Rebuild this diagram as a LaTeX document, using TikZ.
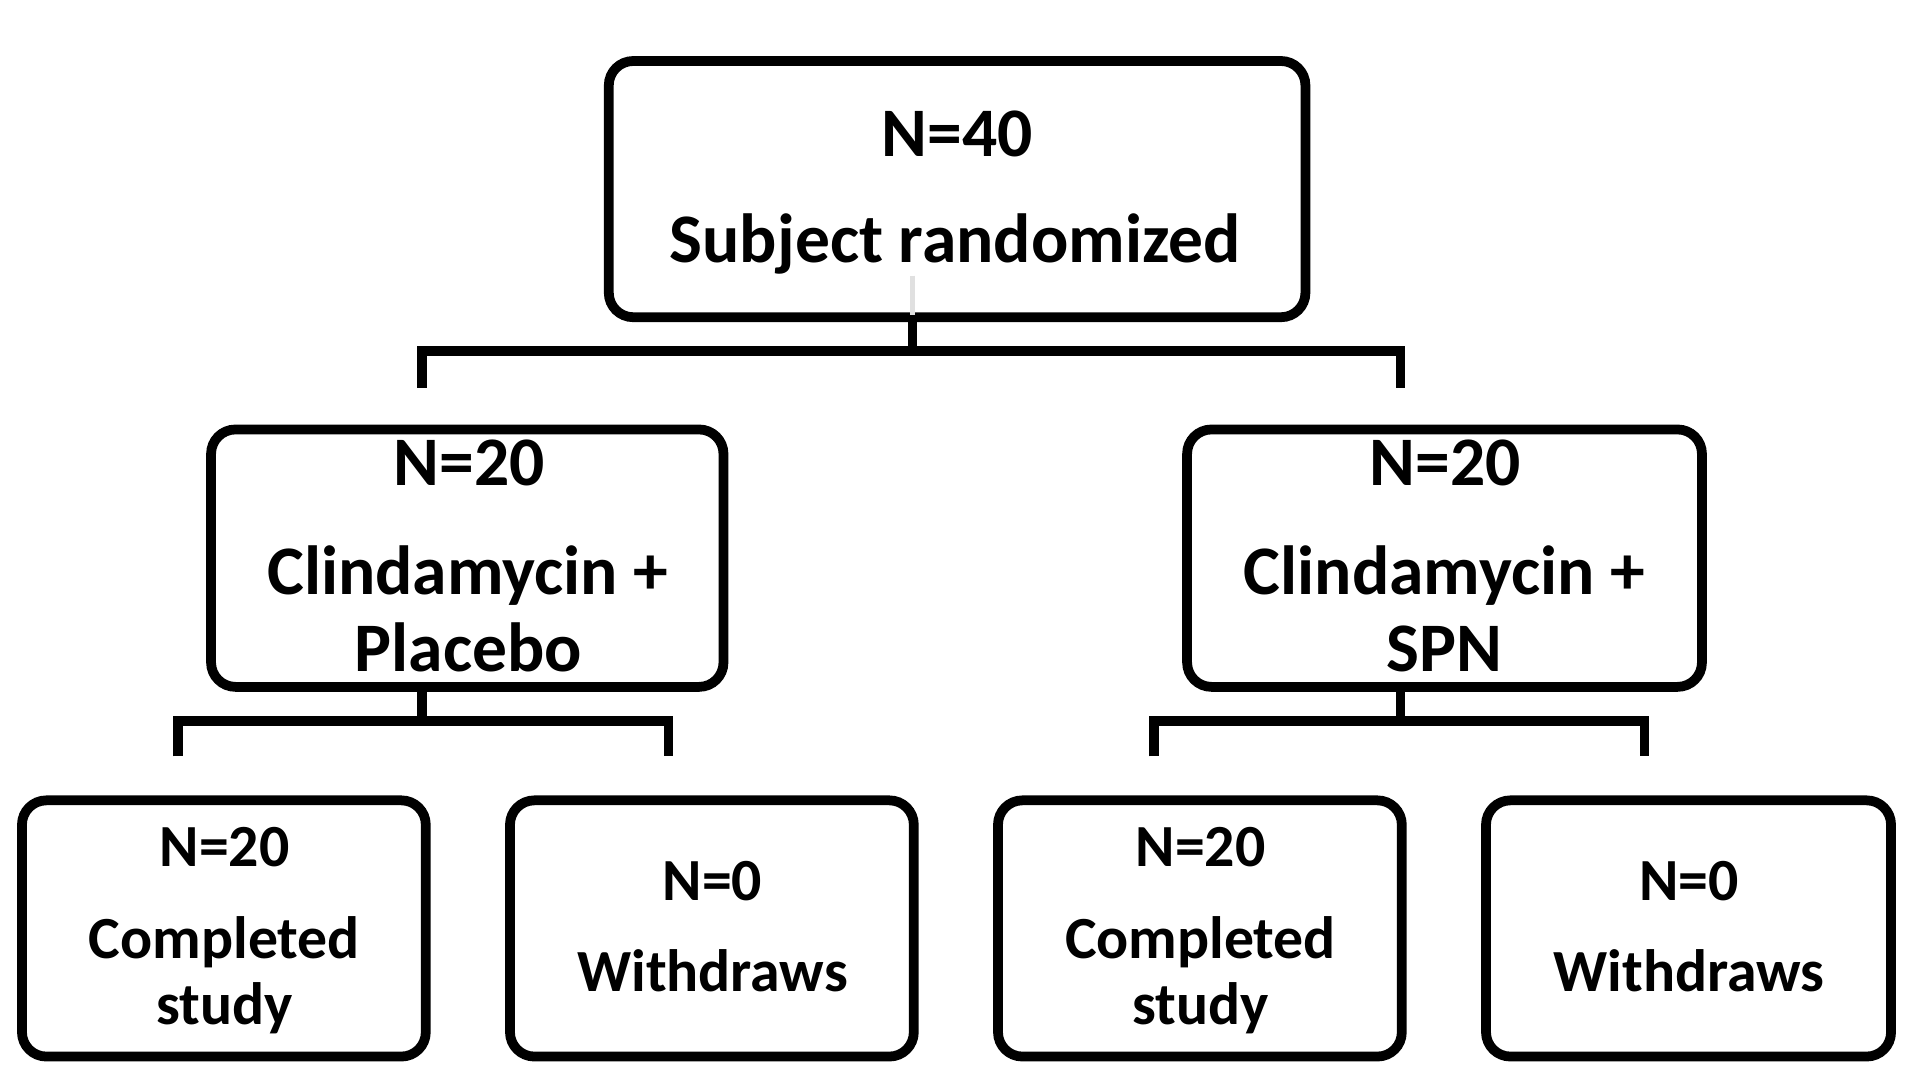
\documentclass[tikz,border=0pt]{standalone}
\usepackage{fontspec}
\setmainfont{Carlito}
\begin{document}
\begin{tikzpicture}[x=1pt,y=-1pt,
  box/.style={draw=black, line width=8pt, rounded corners=20pt, fill=white, inner sep=0pt},
  conn/.style={draw=black, line width=8pt, line join=miter},
  big/.style={inner sep=0pt, anchor=base, font=\bfseries\fontsize{57}{60}\selectfont},
  small/.style={inner sep=0pt, anchor=base, font=\bfseries\fontsize{49}{52}\selectfont},
  ghost/.style={draw=black!12, line width=4pt}]
\useasboundingbox[fill=white] (0,0) rectangle (1568,884);
% boxes
\node[box, minimum width=571pt, minimum height=210pt] (top) at (784.5,155) {};
\node[box, minimum width=420pt, minimum height=211pt] (ml) at (383,457.5) {};
\node[box, minimum width=422pt, minimum height=211pt] (mr) at (1184,457.5) {};
\node[box, minimum width=331pt, minimum height=210pt] (b1) at (183.5,761) {};
\node[box, minimum width=331pt, minimum height=210pt] (b2) at (583.5,761) {};
\node[box, minimum width=331pt, minimum height=210pt] (b3) at (983.5,761) {};
\node[box, minimum width=332pt, minimum height=210pt] (b4) at (1384,761) {};
% faint artefacts
\draw[ghost] (748,226) -- (748,258);
% texts
\node[big] (t1) at (784.5,128) {N=40};
\node[big] (t2) at (783,215) {Subject randomized};
\node[big] (l1) at (384.5,398) {N=20};
\node[big] (l2) at (383.5,487) {Clindamycin +};
\node[big] (l3) at (384,550) {Placebo};
\node[big] (r1) at (1184.5,398) {N=20};
\node[big] (r2) at (1184,487) {Clindamycin +};
\node[big] (r3) at (1184,550) {SPN};
\node[small] (a1) at (184,710) {N=20};
\node[small] (a2) at (184,786) {Completed};
\node[small] (a3) at (184,840) {study};
\node[small] (c1) at (584,738) {N=0};
\node[small] (c2) at (584,813) {Withdraws};
\node[small] (d1) at (984,710) {N=20};
\node[small] (d2) at (984,786) {Completed};
\node[small] (d3) at (984,840) {study};
\node[small] (e1) at (1384.5,738) {N=0};
\node[small] (e2) at (1384.5,813) {Withdraws};
% connectors
\coordinate (j0) at (748,288);
\coordinate (jl) at (346,288);
\coordinate (jr) at (1148,288);
\coordinate (dl) at (346,318);
\coordinate (dr) at (1148,318);
\draw[conn] (j0 |- top.south) -- (j0);
\draw[conn] (dl) -- (jl) -- (jr) -- (dr);
\coordinate (k0) at (346,591);
\coordinate (kl) at (146,591);
\coordinate (kr) at (548,591);
\coordinate (el) at (146,620);
\coordinate (er) at (548,620);
\draw[conn] (k0 |- ml.south) -- (k0);
\draw[conn] (el) -- (kl) -- (kr) -- (er);
\coordinate (m0) at (1148,591);
\coordinate (ml2) at (946,591);
\coordinate (mr2) at (1348,591);
\coordinate (fl) at (946,620);
\coordinate (fr) at (1348,620);
\draw[conn] (m0 |- mr.south) -- (m0);
\draw[conn] (fl) -- (ml2) -- (mr2) -- (fr);
\end{tikzpicture}
\end{document}
